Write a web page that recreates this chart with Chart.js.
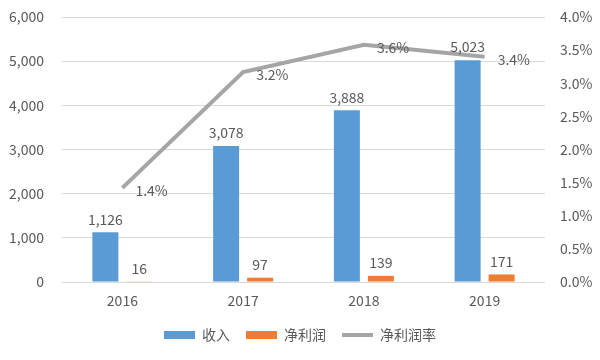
<!DOCTYPE html>
<html>
<head>
<meta charset="utf-8">
<script src="https://cdn.jsdelivr.net/npm/chart.js@4"></script>
<style>
  html, body { margin: 0; padding: 0; background: #fff; }
  #wrap { width: 600px; height: 360px; }
</style>
</head>
<body>
<div id="wrap"><canvas id="chart" width="600" height="360"></canvas></div>
<script>
const years = ["2016", "2017", "2018", "2019"];
const revenue = [1126, 3078, 3888, 5023];
const netProfit = [16, 97, 139, 171];
const netMargin = [1.42, 3.17, 3.58, 3.40];

const textColor = "#595959";
const fontFamily = '"Noto Sans CJK SC", "Liberation Sans", sans-serif';

// data labels: numbers above bars, percent to the right of line points
const valueLabels = {
  id: "valueLabels",
  afterDatasetsDraw(chart) {
    const c = chart.ctx;
    c.save();
    c.font = "14px " + fontFamily;
    c.fillStyle = textColor;
    chart.data.datasets.forEach((ds, i) => {
      const meta = chart.getDatasetMeta(i);
      meta.data.forEach((el, j) => {
        const v = ds.data[j];
        if (ds.type === "line") {
          c.textAlign = "left";
          c.textBaseline = "middle";
          c.fillText(v.toFixed(1) + "%", el.x + 13, el.y + 3);
        } else {
          c.textAlign = "center";
          c.textBaseline = "bottom";
          c.fillText(v.toLocaleString("en-US"), el.x, el.y - 6);
        }
      });
    });
    c.restore();
  }
};

// fixed axis widths, and no extra room reserved above/below for tick labels
function fixWidth(w) {
  return (scale) => {
    scale.width = w;
    scale.paddingTop = 0;
    scale.paddingBottom = 0;
  };
}

new Chart(document.getElementById("chart"), {
  data: {
    labels: years,
    datasets: [
      {
        type: "bar",
        label: "收入",
        data: revenue,
        backgroundColor: "#5b9bd5",
        yAxisID: "y",
        order: 1,
        pointStyle: "rect",
        categoryPercentage: 0.563,
        barPercentage: 0.765,
      },
      {
        type: "bar",
        label: "净利润",
        data: netProfit,
        backgroundColor: "#ed7d31",
        yAxisID: "y",
        order: 1,
        pointStyle: "rect",
        categoryPercentage: 0.563,
        barPercentage: 0.765,
      },
      {
        type: "line",
        label: "净利润率",
        data: netMargin,
        borderColor: "#a5a5a5",
        backgroundColor: "#a5a5a5",
        borderWidth: 4,
        pointRadius: 0,
        pointStyle: "line",
        yAxisID: "y1",
        order: 0,
      },
    ],
  },
  options: {
    responsive: false,
    animation: false,
    layout: { padding: { top: 17, left: 0, right: 0, bottom: 8 } },
    scales: {
      x: {
        grid: { display: false },
        border: { display: false },
        ticks: { color: textColor, font: { family: fontFamily, size: 14 }, padding: 2 },
        afterFit(scale) { scale.height = 30; },
      },
      y: {
        position: "left",
        min: 0,
        max: 6000,
        grid: { color: "#d9d9d9", drawTicks: false },
        border: { display: false },
        ticks: {
          stepSize: 1000,
          padding: 18,
          color: textColor,
          font: { family: fontFamily, size: 14 },
          callback: (v) => v.toLocaleString("en-US"),
        },
        afterFit: fixWidth(62),
      },
      y1: {
        position: "right",
        min: 0,
        max: 4,
        grid: { display: false, drawTicks: false },
        border: { display: false },
        ticks: {
          stepSize: 0.5,
          padding: 15,
          color: textColor,
          font: { family: fontFamily, size: 14 },
          callback: (v) => v.toFixed(1) + "%",
        },
        afterFit: fixWidth(55),
      },
    },
    plugins: {
      tooltip: { enabled: false },
      legend: {
        position: "bottom",
        labels: {
          usePointStyle: true,
          pointStyleWidth: 31,
          boxHeight: 8,
          padding: 16,
          color: textColor,
          font: { family: fontFamily, size: 14 },
          sort: (a, b) => a.datasetIndex - b.datasetIndex,
        },
      },
    },
  },
  plugins: [valueLabels],
});
</script>
</body>
</html>
